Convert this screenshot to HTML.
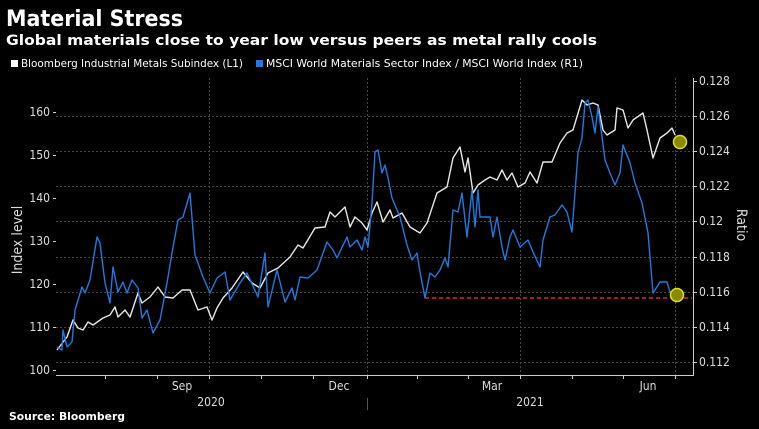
<!DOCTYPE html>
<html><head><meta charset="utf-8"><style>
html,body{margin:0;padding:0;background:#000;width:759px;height:429px;overflow:hidden}
svg{display:block;font-family:"DejaVu Sans Condensed","Liberation Sans",sans-serif}
</style></head><body>
<svg width="759" height="429" viewBox="0 0 759 429" xmlns="http://www.w3.org/2000/svg">
<rect width="759" height="429" fill="#000"/>
<text x="6" y="26" fill="#fff" font-size="22" font-weight="bold" font-family="DejaVu Sans, sans-serif" textLength="177" lengthAdjust="spacingAndGlyphs">Material Stress</text>
<text x="6" y="45" fill="#fff" font-size="14.5" font-weight="bold" font-family="DejaVu Sans, sans-serif" textLength="591" lengthAdjust="spacingAndGlyphs">Global materials close to year low versus peers as metal rally cools</text>
<rect x="11" y="60" width="7" height="7" fill="#fff"/>
<text x="21" y="67" fill="#fff" font-size="10.5" textLength="222" lengthAdjust="spacingAndGlyphs">Bloomberg Industrial Metals Subindex (L1)</text>
<rect x="256" y="60" width="7" height="7" fill="#1f7ae0"/>
<text x="266" y="67" fill="#fff" font-size="10.5" textLength="317" lengthAdjust="spacingAndGlyphs">MSCI World Materials Sector Index / MSCI World Index (R1)</text>
<g stroke="#444" stroke-width="1" stroke-dasharray="2,2">
<line x1="56" x2="693" y1="116.5" y2="116.5"/><line x1="56" x2="693" y1="151.5" y2="151.5"/>
<line x1="56" x2="693" y1="186.5" y2="186.5"/><line x1="56" x2="693" y1="221.5" y2="221.5"/>
<line x1="56" x2="693" y1="257.5" y2="257.5"/><line x1="56" x2="693" y1="292.5" y2="292.5"/>
<line x1="56" x2="693" y1="327.5" y2="327.5"/><line x1="56" x2="693" y1="362.5" y2="362.5"/>
<line x1="209.5" x2="209.5" y1="78" y2="375"/><line x1="367.5" x2="367.5" y1="78" y2="375"/>
<line x1="520.5" x2="520.5" y1="78" y2="375"/><line x1="675.5" x2="675.5" y1="78" y2="375"/>
</g>
<g stroke="#ccc" stroke-width="1">
<line x1="56" x2="694" y1="375.5" y2="375.5"/>
<line x1="693.5" x2="693.5" y1="78" y2="376"/>
<line x1="105.5" x2="105.5" y1="375" y2="379"/><line x1="157.5" x2="157.5" y1="375" y2="379"/>
<line x1="209.5" x2="209.5" y1="375" y2="379"/><line x1="261.5" x2="261.5" y1="375" y2="379"/>
<line x1="313.5" x2="313.5" y1="375" y2="379"/><line x1="367.5" x2="367.5" y1="375" y2="379"/>
<line x1="417.5" x2="417.5" y1="375" y2="379"/><line x1="468.5" x2="468.5" y1="375" y2="379"/>
<line x1="520.5" x2="520.5" y1="375" y2="379"/><line x1="572.5" x2="572.5" y1="375" y2="379"/>
<line x1="623.5" x2="623.5" y1="375" y2="379"/><line x1="675.5" x2="675.5" y1="375" y2="379"/>
<line x1="693" x2="697" y1="81.5" y2="81.5"/><line x1="693" x2="697" y1="116.5" y2="116.5"/>
<line x1="693" x2="697" y1="151.5" y2="151.5"/><line x1="693" x2="697" y1="186.5" y2="186.5"/>
<line x1="693" x2="697" y1="221.5" y2="221.5"/><line x1="693" x2="697" y1="257.5" y2="257.5"/>
<line x1="693" x2="697" y1="292.5" y2="292.5"/><line x1="693" x2="697" y1="327.5" y2="327.5"/>
<line x1="693" x2="697" y1="362.5" y2="362.5"/>
<line x1="53" x2="56" y1="112.5" y2="112.5"/><line x1="53" x2="56" y1="155.5" y2="155.5"/>
<line x1="53" x2="56" y1="198.5" y2="198.5"/><line x1="53" x2="56" y1="241.5" y2="241.5"/>
<line x1="53" x2="56" y1="284.5" y2="284.5"/><line x1="53" x2="56" y1="327.5" y2="327.5"/>
<line x1="53" x2="56" y1="370.5" y2="370.5"/>
<line x1="367.5" x2="367.5" y1="398" y2="410" stroke="#555"/>
</g>
<g fill="#ddd" font-size="12" text-anchor="end">
<text x="50" y="116">160</text><text x="50" y="159">150</text><text x="50" y="202">140</text>
<text x="50" y="245">130</text><text x="50" y="288">120</text><text x="50" y="331">110</text><text x="50" y="374">100</text>
</g>
<g fill="#ddd" font-size="12">
<text x="699" y="85">0.128</text><text x="699" y="120">0.126</text><text x="699" y="155">0.124</text>
<text x="699" y="190">0.122</text><text x="699" y="225">0.12</text><text x="699" y="261">0.118</text>
<text x="699" y="296">0.116</text><text x="699" y="331">0.114</text><text x="699" y="366">0.112</text>
</g>
<g fill="#ddd" font-size="12" text-anchor="middle">
<text x="182" y="390">Sep</text><text x="339" y="390">Dec</text><text x="492" y="390">Mar</text><text x="648" y="390">Jun</text>
<text x="211" y="406">2020</text><text x="530" y="406">2021</text>
</g>
<text transform="translate(22,240) rotate(-90)" fill="#ddd" font-size="14" text-anchor="middle">Index level</text>
<text transform="translate(737,225) rotate(90)" fill="#ddd" font-size="14" text-anchor="middle">Ratio</text>
<text x="9" y="420" fill="#fff" font-size="11" font-weight="bold" textLength="116" lengthAdjust="spacingAndGlyphs">Source: Bloomberg</text>
<line x1="425" x2="692" y1="298" y2="298" stroke="#e8202a" stroke-width="1.5" stroke-dasharray="4,3"/>
<polyline fill="none" stroke="#e8e8e8" stroke-width="1.4" stroke-linejoin="round" points="57,350 67,337 73,320 78,328 83,330 88,322 93,325 103,318 110,315 115,307 118,317 125,310 130,317 138,293 142,303 150,297 158,287 165,297 173,298 182,290 190,290 198,310 207,307 212,320 217,308 223,298 232,288 243,272 252,283 260,288 268,273 278,268 290,257 298,245 303,248 315,228 325,227 330,212 335,217 345,207 350,227 355,217 362,223 367,230 372,213 377,202 383,222 390,210 393,218 402,213 410,227 420,233 427,223 437,193 447,187 453,158 460,147 465,172 468,158 473,193 478,185 485,180 490,177 497,180 502,170 507,180 512,173 518,187 525,183 530,172 537,183 543,162 552,162 560,143 567,133 573,130 582,100 587,105 593,103 598,105 603,130 607,135 615,130 617,108 623,110 628,128 633,120 643,113 647,130 653,158 660,138 667,133 672,128 675,135"/>
<polyline fill="none" stroke="#1f7ae0" stroke-width="1.4" stroke-linejoin="round" points="57,347 62,350 63,330 67,347 72,342 75,310 82,287 85,293 90,280 97,237 100,243 105,283 110,303 113,267 118,292 123,282 127,293 132,280 138,288 142,318 147,310 153,333 160,320 167,283 172,253 178,220 183,217 190,193 195,255 203,277 210,293 217,278 225,272 230,300 240,283 247,273 258,297 265,253 268,307 277,270 285,302 292,288 295,300 300,277 308,278 317,270 327,242 333,250 337,258 347,237 350,247 357,240 362,250 365,237 368,247 372,203 375,152 378,150 382,173 385,165 388,178 392,198 400,217 407,245 412,260 417,253 420,272 425,298 430,273 435,277 440,270 445,258 448,267 453,210 458,212 462,193 467,237 472,190 475,227 478,190 480,217 490,217 493,237 497,217 502,247 505,260 510,237 513,230 520,247 528,240 533,252 540,267 543,240 550,217 555,215 562,205 567,212 572,232 578,153 582,138 585,103 588,100 592,117 595,133 598,107 602,137 605,160 610,173 615,185 620,173 623,145 630,163 635,183 642,203 648,233 653,293 660,282 667,282 670,292 677,295"/>
<circle cx="680" cy="142" r="6.5" fill="#8a8a00" stroke="#e0e020" stroke-width="1.5"/>
<circle cx="677" cy="295" r="6.5" fill="#8a8a00" stroke="#e0e020" stroke-width="1.5"/>
</svg>
</body></html>
